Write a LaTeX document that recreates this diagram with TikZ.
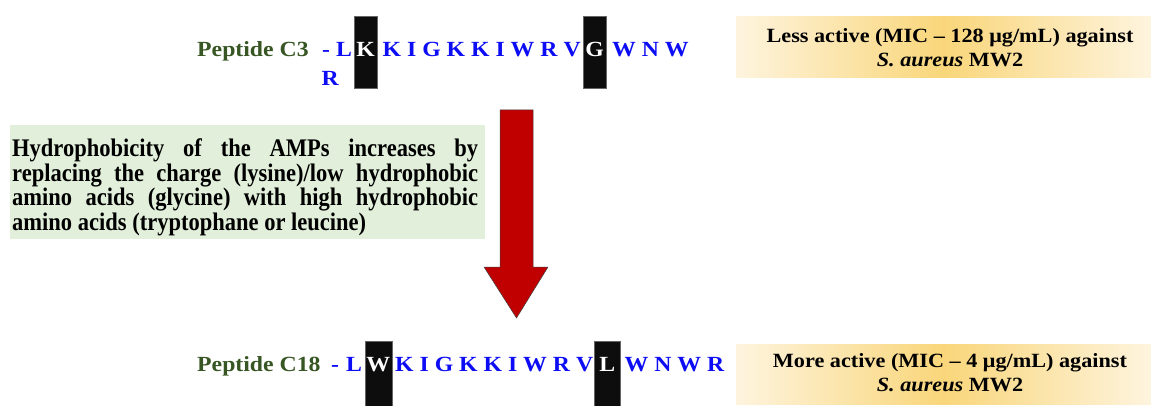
\documentclass[tikz,border=0pt]{standalone}
\usepackage{fontspec}
\setmainfont{Liberation Serif}
\newfontfamily\pepf[FakeStretch=1.1]{Liberation Serif}
\newfontfamily\hydf[FakeStretch=0.89]{Liberation Serif}
\usetikzlibrary{fit}
\definecolor{seqblue}{RGB}{12,12,245}
\definecolor{pepgreen}{RGB}{55,86,35}
\definecolor{hydgreen}{RGB}{226,239,218}
\definecolor{goldmid}{RGB}{249,214,122}
\definecolor{goldedge}{RGB}{254,244,222}
\definecolor{arrowred}{RGB}{192,0,0}
\begin{document}
\begin{tikzpicture}[x=1pt,y=-1pt,
  pep/.style={anchor=base west, inner sep=0pt, font=\pepf\bfseries\fontsize{21.6}{24}\selectfont},
  seq/.style={pep, text=seqblue},
  lab/.style={pep, text=pepgreen},
  hl/.style={fill=black!95, draw=black!60, line width=0.4pt, inner sep=0pt},
  hltxt/.style={pep, anchor=base, text=white},
  actbox/.style={left color=goldedge, right color=goldedge, middle color=goldmid, draw=none, inner sep=0pt},
  acttxt/.style={anchor=base, inner sep=0pt, font=\pepf\bfseries\fontsize{20.2}{24}\selectfont},
  hydbox/.style={fill=hydgreen, draw=none, inner sep=0pt},
  hydtxt/.style={anchor=north west, inner sep=0pt, text width=466pt, align=justify,
    font=\hydf\bfseries\fontsize{25.3}{24.5}\selectfont},
  blockarrow/.style={fill=arrowred, draw=black!75, line width=0.5pt, line join=miter}
]
\useasboundingbox (0,0) rectangle (1151,406);

% ---------- top row: Peptide C3 ----------
\node[hl, fit={(354.3,16.5) (377,88)}] (hlK) {};
\node[hl, fit={(583,16.5) (606,88)}] (hlG) {};
\node[lab] (labC3) at (197,57) {Peptide C3};
\node[seq] (dashC3) at (322,57) {-};
\node[seq] (LC3) at (336,57) {L};
\node[seq] (RC3) at (321.5,86) {R};
\node[hltxt] (KC3) at (365.7,57) {K};
\node[seq] (midC3) at (382.5,57) {K I G K K I W R V};
\node[hltxt] (GC3) at (594.5,57) {G};
\node[seq] (endC3) at (612,57) {W N W};

% ---------- top activity box ----------
\node[actbox, fit={(736,17) (1151,78)}] (actC3) {};
\node[acttxt] (actC3a) at (950,42.7) {Less active (MIC – 128 μg/mL) against};
\node[acttxt] (actC3b) at (950,66.7) {\itshape S. aureus\upshape{} MW2};

% ---------- explanation box ----------
\node[hydbox, fit={(10,125) (485,239)}] (hyd) {};
\node[hydtxt] (hydtext) at (12,138.5) {Hydrophobicity of the AMPs increases by\linebreak
replacing the charge (lysine)/low hydrophobic\linebreak
amino acids (glycine) with high hydrophobic\linebreak
amino acids (tryptophane or leucine)};

% ---------- block arrow ----------
\draw[blockarrow] (500,110) -- (533,110) -- (533,267) -- (548,267) -- (516.5,318)
  -- (484,267) -- (500,267) -- cycle;

% ---------- bottom row: Peptide C18 ----------
\node[hl, fit={(365,341) (391.7,406)}] (hlW) {};
\node[hl, fit={(594,340.7) (620.6,406)}] (hlL) {};
\node[lab] (labC18) at (197,371) {Peptide C18};
\node[seq] (dashC18) at (331,371) {-};
\node[seq] (LC18) at (346,371) {L};
\node[hltxt] (WC18) at (378.3,371) {W};
\node[seq] (midC18) at (395,371) {K I G K K I W R V};
\node[hltxt] (LLC18) at (607.3,371) {L};
\node[seq] (endC18) at (624.5,371) {W N W R};

% ---------- bottom activity box ----------
\node[actbox, fit={(736,344) (1151,404)}] (actC18) {};
\node[acttxt] (actC18a) at (950,367.7) {More active (MIC – 4 μg/mL) against};
\node[acttxt] (actC18b) at (950,391.7) {\itshape S. aureus\upshape{} MW2};
\end{tikzpicture}
\end{document}
